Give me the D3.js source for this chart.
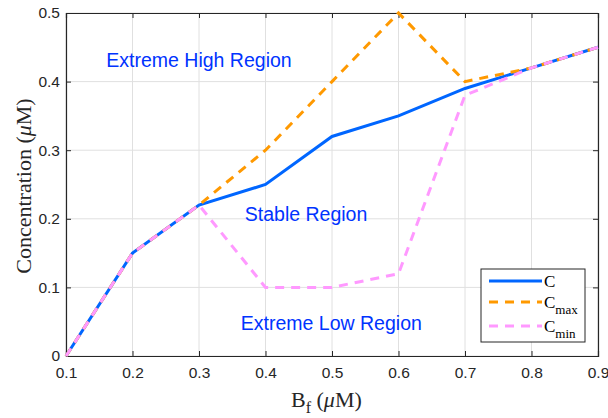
<!DOCTYPE html>
<html>
<head>
<meta charset="utf-8">
<script src="https://cdn.jsdelivr.net/npm/d3@7"></script>
<style>
body { margin: 0; background: #fff; }
svg text { font-family: "Liberation Sans", Arial, sans-serif; }
</style>
</head>
<body>
<svg id="chart" width="608" height="418"></svg>
<script>
// data
var bf = [0.1, 0.2, 0.3, 0.4, 0.5, 0.6, 0.7, 0.8, 0.9];
var cMean = [0, 0.15, 0.22, 0.25, 0.32, 0.35, 0.39, 0.42, 0.45];
var cMax = [0, 0.15, 0.22, 0.30, 0.40, 0.50, 0.40, 0.42, 0.45];
var cMin = [0, 0.15, 0.22, 0.10, 0.10, 0.12, 0.38, 0.42, 0.45];
var xTicks = [0.1, 0.2, 0.3, 0.4, 0.5, 0.6, 0.7, 0.8, 0.9];
var yTicks = [0, 0.1, 0.2, 0.3, 0.4, 0.5];
var regions = [
	{ label: 'Extreme High Region', x: 0.3, y: 0.421 },
	{ label: 'Stable Region', x: 0.461, y: 0.197 },
	{ label: 'Extreme Low Region', x: 0.499, y: 0.038 }
];

var m = { left: 66, right: 10, top: 13, bottom: 62 };
var width = 608, height = 418;
var svg = d3.select('#chart');

var x = d3.scaleLinear().domain([0.1, 0.9]).range([m.left, width - m.right]);
var y = d3.scaleLinear().domain([0, 0.5]).range([height - m.bottom, m.top]);

// grid
svg.append('g')
.selectAll('line')
.data(xTicks)
.enter()
.append('line')
.attr('x1', d => x(d)).attr('x2', d => x(d))
.attr('y1', y(0)).attr('y2', y(0.5))
.style('stroke', '#e0e0e0').style('stroke-width', 1);

svg.append('g')
.selectAll('line')
.data(yTicks)
.enter()
.append('line')
.attr('x1', x(0.1)).attr('x2', x(0.9))
.attr('y1', d => y(d)).attr('y2', d => y(d))
.style('stroke', '#e0e0e0').style('stroke-width', 1);

// axes
var fmt = d3.format('');
svg.append('g')
.attr('transform', 'translate(0,' + y(0) + ')')
.call(d3.axisBottom(x).tickValues(xTicks).tickSize(-5).tickPadding(11).tickFormat(fmt));
svg.append('g')
.attr('transform', 'translate(' + x(0.1) + ',0)')
.call(d3.axisLeft(y).tickValues(yTicks).tickSize(-5).tickPadding(6).tickFormat(fmt));
svg.append('g')
.attr('transform', 'translate(0,' + y(0.5) + ')')
.call(d3.axisTop(x).tickValues(xTicks).tickSize(-5).tickFormat(''));
svg.append('g')
.attr('transform', 'translate(' + x(0.9) + ',0)')
.call(d3.axisRight(y).tickValues(yTicks).tickSize(-5).tickFormat(''));

svg.selectAll('.domain').style('stroke', '#262626').style('stroke-width', 1.2);
svg.selectAll('.tick line').style('stroke', '#262626');
svg.selectAll('.tick text')
.style('font-size', '15.5px')
.style('fill', '#262626')
.style('font-family', '"Liberation Sans", Arial, sans-serif');

// lines
var line = d3.line()
.x((d, i) => x(bf[i]))
.y(d => y(d));

var series = [
	{ name: 'C', sub: '', values: cMean, color: '#0066ff', dash: null, row: 12 },
	{ name: 'C', sub: 'max', values: cMax, color: '#ff9900', dash: '9,7', row: 33 },
	{ name: 'C', sub: 'min', values: cMin, color: '#ff99ff', dash: '9,7', row: 57 }
];

svg.selectAll('path.series')
.data(series)
.enter()
.append('path')
.attr('class', 'series')
.attr('d', d => line(d.values))
.style('fill', 'none')
.style('stroke', d => d.color)
.style('stroke-width', 3)
.style('stroke-dasharray', d => d.dash);

// region labels
svg.selectAll('text.region')
.data(regions)
.enter()
.append('text')
.attr('class', 'region')
.attr('x', d => x(d.x))
.attr('y', d => y(d.y))
.attr('text-anchor', 'middle')
.style('font-size', '19.5px')
.style('fill', '#0033ff')
.text(d => d.label);

// axis titles
var xt = svg.append('text')
.attr('x', 291)
.attr('y', 407)
.style('font-family', '"Liberation Serif", "Times New Roman", serif')
.style('font-size', '22px')
.style('fill', '#262626');
xt.append('tspan').text('B');
xt.append('tspan').attr('dy', 6).style('font-size', '16px').text('f');
xt.append('tspan').attr('dy', -6).text(' (');
xt.append('tspan').style('font-style', 'italic').text('\u03bc');
xt.append('tspan').text('M)');

var yt = svg.append('text')
.attr('transform', 'translate(31,' + 186 + ') rotate(-90)')
.attr('text-anchor', 'middle')
.style('font-family', '"Liberation Serif", "Times New Roman", serif')
.style('font-size', '22px')
.style('fill', '#262626');
yt.append('tspan').text('Concentration (');
yt.append('tspan').style('font-style', 'italic').text('\u03bc');
yt.append('tspan').text('M)');

// legend
var lg = svg.append('g').attr('transform', 'translate(481,269)');
lg.append('rect')
.attr('width', 104).attr('height', 73)
.style('fill', '#fff')
.style('stroke', '#262626')
.style('stroke-width', 1);

var item = lg.selectAll('g.item')
.data(series)
.enter()
.append('g')
.attr('class', 'item')
.attr('transform', d => 'translate(0,' + d.row + ')');

item.append('line')
.attr('x1', 8).attr('x2', 61)
.attr('y1', 0).attr('y2', 0)
.style('stroke', d => d.color)
.style('stroke-width', 3)
.style('stroke-dasharray', d => d.dash);

var lt = item.append('text')
.attr('x', 63)
.attr('y', 6)
.style('font-family', '"Liberation Serif", "Times New Roman", serif')
.style('font-size', '17px')
.style('fill', '#000');
lt.append('tspan').text(d => d.name);
lt.append('tspan').attr('dy', 6).style('font-size', '13px').text(d => d.sub);
</script>
</body>
</html>
